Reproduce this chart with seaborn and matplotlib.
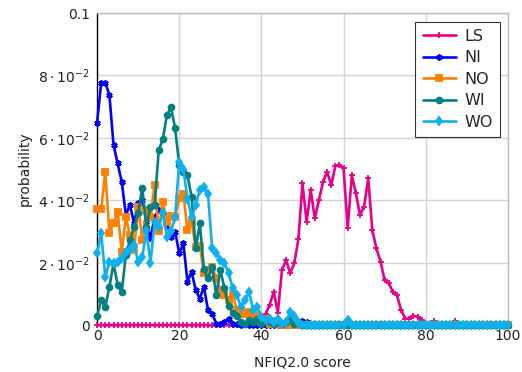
import numpy as np
import pandas as pd
import matplotlib
matplotlib.use("Agg")
import matplotlib.pyplot as plt
import seaborn as sns
from matplotlib.ticker import FixedLocator, FixedFormatter

scores = list(range(0, 101))

LS = [0.0] * 38 + [
    0.0005, 0.0010, 0.0021, 0.0035, 0.0065, 0.0107, 0.0040, 0.0176, 0.0208, 0.0166,
    0.0198, 0.0275, 0.0454, 0.0331, 0.0433, 0.0342, 0.0401, 0.0459, 0.0491, 0.0449,
    0.0510, 0.0513, 0.0502, 0.0310, 0.0480, 0.0422, 0.0353, 0.0380, 0.0470, 0.0304,
    0.0246, 0.0203, 0.0144, 0.0134, 0.0107, 0.0096, 0.0048, 0.0021, 0.0021, 0.0030,
    0.0027, 0.0016, 0.0005, 0.0000, 0.0014, 0.0000, 0.0000, 0.0000, 0.0000, 0.0014,
] + [0.0] * 13

NI = [
    0.0649, 0.0777, 0.0777, 0.0737, 0.0577, 0.0518, 0.0459, 0.0353, 0.0385, 0.0326,
    0.0390, 0.0400, 0.0330, 0.0278, 0.0347, 0.0369, 0.0358, 0.0326, 0.0283, 0.0299,
    0.0230, 0.0262, 0.0139, 0.0171, 0.0112, 0.0085, 0.0123, 0.0048, 0.0037, 0.0005,
    0.0003, 0.0010, 0.0020, 0.0005, 0.0003, 0.0000, 0.0005, 0.0000, 0.0000, 0.0000,
    0.0000, 0.0000, 0.0000, 0.0000, 0.0000, 0.0000, 0.0000, 0.0000, 0.0000, 0.0005,
    0.0014, 0.0010, 0.0005,
] + [0.0] * 48

NO = [
    0.0372, 0.0372, 0.0491, 0.0294, 0.0326, 0.0363, 0.0235, 0.0347, 0.0288, 0.0240,
    0.0380, 0.0272, 0.0369, 0.0347, 0.0449, 0.0300, 0.0395, 0.0330, 0.0350, 0.0345,
    0.0406, 0.0420, 0.0304, 0.0330, 0.0250, 0.0255, 0.0166, 0.0176, 0.0187, 0.0150,
    0.0112, 0.0096, 0.0080, 0.0101, 0.0048, 0.0050, 0.0037, 0.0043, 0.0020, 0.0030,
    0.0010, 0.0020, 0.0005, 0.0010, 0.0005,
] + [0.0] * 56

WI = [
    0.0029, 0.0080, 0.0059, 0.0123, 0.0198, 0.0128, 0.0107, 0.0226, 0.0272, 0.0313,
    0.0360, 0.0440, 0.0315, 0.0379, 0.0385, 0.0560, 0.0596, 0.0673, 0.0698, 0.0630,
    0.0513, 0.0490, 0.0480, 0.0411, 0.0246, 0.0326, 0.0180, 0.0150, 0.0187, 0.0096,
    0.0176, 0.0120, 0.0060, 0.0040, 0.0030, 0.0010, 0.0005, 0.0015, 0.0010, 0.0020,
    0.0005, 0.0015, 0.0010, 0.0005, 0.0010, 0.0005, 0.0010, 0.0020, 0.0005, 0.0010,
] + [0.0] * 51

WO = [
    0.0230, 0.0294, 0.0155, 0.0203, 0.0198, 0.0203, 0.0214, 0.0235, 0.0240, 0.0256,
    0.0203, 0.0219, 0.0300, 0.0200, 0.0330, 0.0315, 0.0360, 0.0283, 0.0300, 0.0347,
    0.0523, 0.0500, 0.0405, 0.0345, 0.0385, 0.0433, 0.0443, 0.0420, 0.0246, 0.0230,
    0.0210, 0.0200, 0.0166, 0.0120, 0.0096, 0.0059, 0.0080, 0.0107, 0.0048, 0.0059,
    0.0027, 0.0016, 0.0020, 0.0010, 0.0020, 0.0005, 0.0010, 0.0043, 0.0030, 0.0010,
    0.0000, 0.0000, 0.0000, 0.0000, 0.0000, 0.0000, 0.0000, 0.0000, 0.0000, 0.0000,
    0.0000, 0.0015,
] + [0.0] * 39

series_names = ["LS", "NI", "NO", "WI", "WO"]
series_values = [LS, NI, NO, WI, WO]
colors = {"LS": "#e8008c", "NI": "#0000ff", "NO": "#ff8000", "WI": "#008080", "WO": "#10b0ee"}
markers = {"LS": "+", "NI": (6, 2, 0), "NO": "s", "WI": "o", "WO": "d"}
msizes = {"LS": 4.5, "NI": 4.5, "NO": 4.5, "WI": 4.2, "WO": 4.5}

sns.set_style("white")
plt.rcParams["font.family"] = ["DejaVu Sans"]
plt.rcParams["mathtext.fontset"] = "dejavusans"

fig = plt.figure(figsize=(5.22, 3.72), dpi=100)
ax = fig.add_axes([0.186, 0.126, 0.787, 0.839])

for i, (name, vals) in enumerate(zip(series_names, series_values)):
    df = pd.DataFrame({"score": scores, "prob": vals})
    c = colors[name]
    sns.lineplot(data=df, x="score", y="prob", ax=ax, color=c, label=name,
                 marker=markers[name], markersize=msizes[name],
                 markeredgecolor=c, markerfacecolor=c, markeredgewidth=1.3,
                 linewidth=1.9, clip_on=False, zorder=3 + i)

ax.set_xlim(0, 100)
ax.set_ylim(0, 0.1)
ax.xaxis.set_major_locator(FixedLocator([0, 20, 40, 60, 80, 100]))
yt = [0, 0.02, 0.04, 0.06, 0.08, 0.1]
ax.yaxis.set_major_locator(FixedLocator(yt))
ax.yaxis.set_major_formatter(FixedFormatter(
    ["0", r"$2\cdot10^{-2}$", r"$4\cdot10^{-2}$", r"$6\cdot10^{-2}$", r"$8\cdot10^{-2}$", "0.1"]))
ax.grid(True, color="#d3d3d3", linewidth=1.0, zorder=0)
ax.set_axisbelow(True)
for s in ["top", "right"]:
    ax.spines[s].set_color("#bbbbbb")
    ax.spines[s].set_linewidth(1.0)
for s in ["left", "bottom"]:
    ax.spines[s].set_color("black")
    ax.spines[s].set_linewidth(1.0)
ax.tick_params(axis="both", labelsize=10, colors="#222222", length=0)
ax.tick_params(axis="y", pad=5)
ax.tick_params(axis="x", pad=3)
ax.set_xlabel("NFIQ2.0 score", fontsize=10, color="#222222", labelpad=9)
ax.set_ylabel("probability", fontsize=10, color="#222222", labelpad=5)

leg = ax.legend(loc="upper right", fontsize=11.5, frameon=True, fancybox=False,
                edgecolor="#333333", framealpha=1, handlelength=2.1,
                borderpad=0.45, labelspacing=0.4, handletextpad=0.5,
                borderaxespad=0, bbox_to_anchor=(0.98, 0.972))
leg.get_frame().set_linewidth(0.8)
leg.set_zorder(20)

fig.savefig("out.png", dpi=100)
